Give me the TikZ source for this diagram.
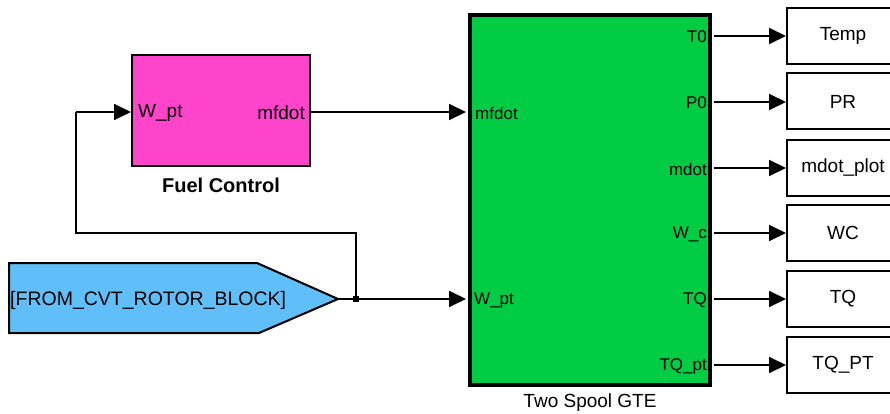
\documentclass[tikz,border=0pt]{standalone}
\usepackage{fontspec}
\setmainfont{Liberation Sans}
\usetikzlibrary{arrows.meta}
\definecolor{fuelpink}{RGB}{255,68,204}
\definecolor{gtegreen}{RGB}{0,204,68}
\definecolor{fromblue}{RGB}{96,190,248}
\tikzset{
  conn/.style={line width=1.8pt,-{Triangle[length=17pt,width=16pt]}},
  wire/.style={line width=1.8pt},
  portl/.style={anchor=west,inner sep=0pt,font=\fontsize{17}{19}\selectfont},
  portr/.style={anchor=east,inner sep=0pt,font=\fontsize{17}{19}\selectfont},
  fportl/.style={anchor=west,inner sep=0pt,font=\fontsize{19}{21}\selectfont},
  fportr/.style={anchor=east,inner sep=0pt,font=\fontsize{19}{21}\selectfont},
  outbox/.style={draw,line width=2pt,fill=white,minimum width=112pt,minimum height=56pt,inner sep=0pt,font=\fontsize{19}{21}\selectfont},
  blklabel/.style={inner sep=0pt,font=\fontsize{19}{21}\selectfont}
}
\begin{document}
\begin{tikzpicture}[x=1pt,y=-1pt]
\useasboundingbox (0,0) rectangle (890,414);
\clip (0,0) rectangle (890,414);
\fill[white] (0,0) rectangle (890,414);
% Fuel control block
\node[draw,line width=2pt,fill=fuelpink,minimum width=178pt,minimum height=111pt,inner sep=0pt] (fuel) at (221,110.5) {};
\node[blklabel,font=\fontsize{20}{22}\selectfont\bfseries] (fuellbl) at (221,185) {Fuel Control};
\node[fportl] (fuelin) at (138,113) {W\_pt};
\node[fportr] (fuelout) at (305,113) {mfdot};
% Green block
\node[draw,line width=4pt,fill=gtegreen,minimum width=240pt,minimum height=370pt,inner sep=0pt] (gte) at (590,200) {};
\node[blklabel] (gtelbl) at (590,403) {Two Spool GTE};
\node[portl] (gin1) at (475,113) {mfdot};
\node[portl] (gin2) at (474,300) {W\_pt};
\node[portr] (go1) at (707,37) {T0};
\node[portr] (go2) at (707,103) {P0};
\node[portr] (go3) at (707,169) {mdot};
\node[portr] (go4) at (707,234) {W\_c};
\node[portr] (go5) at (707,300) {TQ};
\node[portr] (go6) at (707,366) {TQ\_pt};
% From block
\draw[line width=2pt,fill=fromblue] (9,263) -- (257,263) -- (338,299) -- (259,333) -- (9,333) -- cycle;
\node[anchor=west,inner sep=0pt,font=\fontsize{19.5}{21}\selectfont] (fromtxt) at (10,300) {[FROM\_CVT\_ROTOR\_BLOCK]};
% Output boxes
\node[outbox] (temp) at (843,36) {Temp};
\node[outbox] (pr) at (843,101.5) {PR};
\node[outbox] (mdp) at (843,168) {mdot\_plot};
\node[outbox] (wc) at (843,233) {WC};
\node[outbox] (tq) at (843,299) {TQ};
\node[outbox] (tqpt) at (843,365) {TQ\_PT};
% Port coordinates
\coordinate (fin) at (131,112);
\coordinate (fout) at (311,112);
\coordinate (gi1) at (466,112);
\coordinate (gi2) at (466,299);
\coordinate (tip) at (338,299);
\coordinate (junc) at (356,299);
\coordinate (c1) at (356,233);
\coordinate (c2) at (76,233);
\coordinate (c3) at (76,112);
\foreach \y/\n in {36/temp,102/pr,168/mdp,233/wc,299/tq,365/tqpt}{
  \coordinate (o\n) at (714,\y);
  \draw[conn] (o\n) -- (\n.west |- o\n);
}
% Connectors
\draw[conn] (fout) -- (gi1);
\draw[conn] (tip) -- (gi2);
\draw[wire] (junc) -- (c1) -- (c2) -- (c3);
\draw[conn] (c3) -- (fin);
\fill (junc) ++(-3,-3) rectangle ++(6,6);
\end{tikzpicture}
\end{document}
